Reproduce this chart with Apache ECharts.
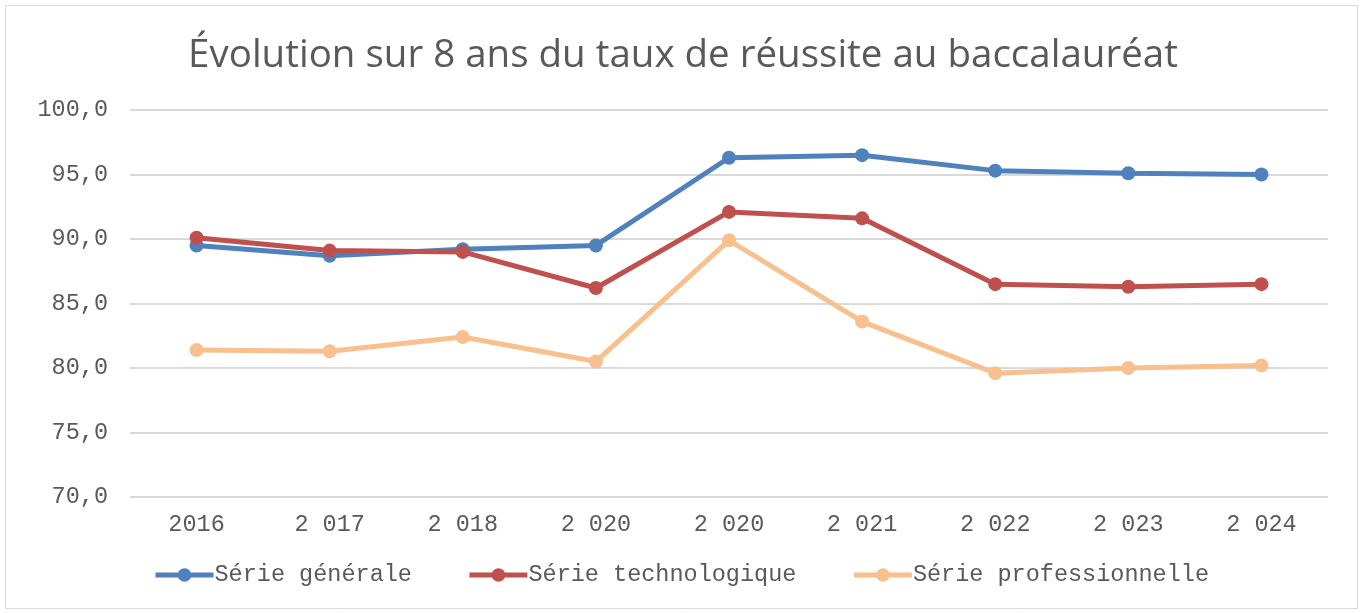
<!DOCTYPE html>
<html>
<head>
<meta charset="utf-8">
<script src="https://cdn.jsdelivr.net/npm/echarts@6/dist/echarts.min.js"></script>
<style>
  html, body { margin: 0; padding: 0; background: #fff; }
  #chart { width: 1366px; height: 613px; }
</style>
</head>
<body>
<div id="chart"></div>
<script>
// catégories (axe x) et valeurs
const years = ['2016', '2 017', '2 018', '2 020', '2 020', '2 021', '2 022', '2 023', '2 024']
const serieGenerale = [89.5, 88.7, 89.2, 89.5, 96.3, 96.5, 95.3, 95.1, 95.0]
const serieTechno = [90.1, 89.1, 89.0, 86.2, 92.1, 91.6, 86.5, 86.3, 86.5]
const seriePro = [81.4, 81.3, 82.4, 80.5, 89.9, 83.6, 79.6, 80.0, 80.2]

const color = ['#4F81BD', '#C0504D', '#F9C08F']
const monoFont = '"Liberation Mono", "DejaVu Sans Mono", monospace'
const monoSize = 23.5

const myChart = echarts.init(document.getElementById('chart'))

const makeSeries = (name, data, c) => ({
  name: name,
  type: 'line',
  data: data,
  symbol: 'circle',
  symbolSize: 14,
  itemStyle: { color: c },
  lineStyle: { color: c, width: 5 },
  emphasis: { disabled: true }
})

myChart.setOption({
  animation: false,
  color: color,
  title: {
    text: 'Évolution sur 8 ans du taux de réussite au baccalauréat',
    left: 'center',
    top: 32,
    textStyle: {
      fontFamily: '"Open Sans", Lato, sans-serif',
      fontWeight: 'normal',
      fontSize: 38.5,
      color: '#595959'
    }
  },
  legend: {
    bottom: 21,
    left: 148,
    itemWidth: 58,
    itemHeight: 17,
    itemGap: 55,
    lineStyle: { width: 5 },
    textStyle: {
      fontFamily: monoFont,
      fontSize: monoSize,
      color: '#595959',
      padding: [0, 0, 0, -4]
    }
  },
  grid: {
    left: 130,
    right: 38,
    top: 110,
    bottom: 116
  },
  xAxis: {
    type: 'category',
    data: years,
    boundaryGap: true,
    axisLine: { show: false },
    axisTick: { show: false },
    axisLabel: {
      margin: 16,
      fontFamily: monoFont,
      fontSize: monoSize,
      color: '#595959'
    }
  },
  yAxis: {
    type: 'value',
    min: 70,
    max: 100,
    interval: 5,
    axisLine: { show: false },
    axisTick: { show: false },
    axisLabel: {
      margin: 22,
      fontFamily: monoFont,
      fontSize: monoSize,
      color: '#595959',
      formatter: v => v.toFixed(1).replace('.', ',')
    },
    splitLine: {
      lineStyle: { color: '#D9D9D9', width: 2 }
    }
  },
  graphic: [{
    type: 'rect',
    shape: { x: 5.5, y: 5.5, width: 1352, height: 603 },
    style: { fill: null, stroke: '#D9D9D9', lineWidth: 1 },
    silent: true
  }],
  series: [
    makeSeries('Série générale', serieGenerale, color[0]),
    makeSeries('Série technologique', serieTechno, color[1]),
    makeSeries('Série professionnelle', seriePro, color[2])
  ]
})
</script>
</body>
</html>
